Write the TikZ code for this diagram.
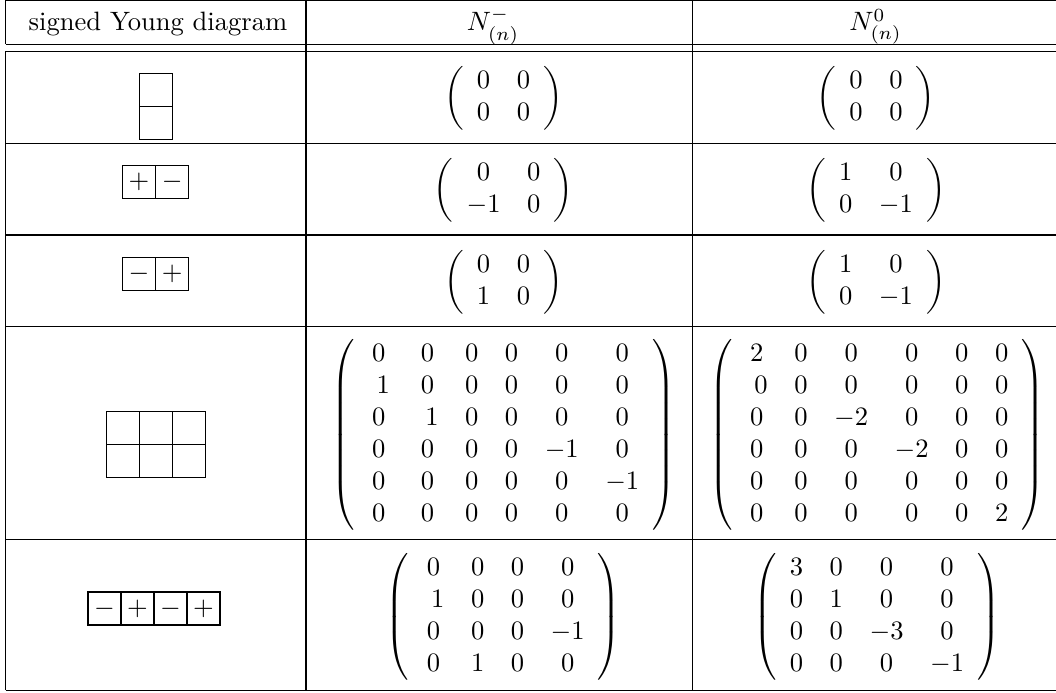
\documentclass[tikz,border=0pt]{standalone}
\usepackage{amsmath}
\begin{document}
\begin{tikzpicture}[x=0.3764pt,y=-0.3764pt,
  rule/.style={line width=0.4pt,black},
  ybox/.style={draw,line width=0.4pt,minimum size=12.42pt,inner sep=0pt,outer sep=0pt,anchor=center},
  mat/.style={inner sep=0pt,outer sep=0pt,anchor=center},
  hdr/.style={inner sep=0pt,anchor=base}]
\useasboundingbox (0,0) rectangle (1056,693);
% horizontal rules
\foreach \yy in {0.5,44.5,51.3,143.3,235,326.5,539.5,690.5}
  \draw[rule] (5.7,\yy) -- (1056,\yy);
% vertical rules
\draw[rule] (5.7,0.5) -- (5.7,44.5);
\draw[rule] (5.7,51.3) -- (5.7,690.5);
\draw[rule] (306,0.5) -- (306,690.5);
\draw[rule] (692.5,0.5) -- (692.5,690.5);
% header
\node[hdr] (h1) at (158,31) {signed Young diagram};
\node[hdr] (h2) at (493,31) {$N^-_{(n)}$};
\node[hdr] (h3) at (875.5,31) {$N^0_{(n)}$};
% Young diagrams
\node[ybox] (y1a) at (156,90.2) {};
\node[ybox] (y1b) at (156,123.3) {};
\node[ybox] (y2a) at (139,182) {$+$};
\node[ybox] (y2b) at (172.3,182) {$-$};
\node[ybox] (y3a) at (139,273.7) {$-$};
\node[ybox] (y3b) at (172.3,273.7) {$+$};
\node[ybox] (y4a) at (123,427.8) {};
\node[ybox] (y4b) at (156,427.8) {};
\node[ybox] (y4c) at (189,427.8) {};
\node[ybox] (y4d) at (123,460.8) {};
\node[ybox] (y4e) at (156,460.8) {};
\node[ybox] (y4f) at (189,460.8) {};
\node[ybox] (y5a) at (104.5,608.5) {$-$};
\node[ybox] (y5b) at (137.5,608.5) {$+$};
\node[ybox] (y5c) at (170.5,608.5) {$-$};
\node[ybox] (y5d) at (203.5,608.5) {$+$};
% matrices N^-
\node[mat] (m1a) at (503.5,98.3) {$\left(\begin{array}{cc}0&0\\0&0\end{array}\right)$};
\node[mat] (m2a) at (503.5,190) {$\left(\begin{array}{cc}0&0\\-1&0\end{array}\right)$};
\node[mat] (m3a) at (503.5,282) {$\left(\begin{array}{cc}0&0\\1&0\end{array}\right)$};
\node[mat] (m4a) at (503.5,435) {$\left(\begin{array}{cccccc}
0&0&0&0&0&0\\
\ 1&0&0&0&0&0\\
0&\ 1&0&0&0&0\\
0&0&0&0&-1&0\\
0&0&0&0&0&-1\\
0&0&0&0&0&0
\end{array}\right)$};
\node[mat] (m5a) at (503.5,617) {$\left(\begin{array}{cccc}
0&0&0&0\\
\ 1&0&0&0\\
0&0&0&-1\\
0&1&0&0
\end{array}\right)$};
% matrices N^0
\node[mat] (m1b) at (876,98.3) {$\left(\begin{array}{cc}0&0\\0&0\end{array}\right)$};
\node[mat] (m2b) at (876,190) {$\left(\begin{array}{cc}1&0\\0&-1\end{array}\right)$};
\node[mat] (m3b) at (876,282) {$\left(\begin{array}{cc}1&0\\0&-1\end{array}\right)$};
\node[mat] (m4b) at (877,435) {$\left(\begin{array}{cccccc}
2&0&0&0&0&0\\
\ 0&0&0&0&0&0\\
0&0&-2&0&0&0\\
0&0&0&-2&0&0\\
0&0&0&0&0&0\\
0&0&0&0&0&2
\end{array}\right)$};
\node[mat] (m5b) at (877,617) {$\left(\begin{array}{cccc}
3&0&0&0\\
0&1&0&0\\
0&0&-3&0\\
0&0&0&-1
\end{array}\right)$};
\end{tikzpicture}
\end{document}
